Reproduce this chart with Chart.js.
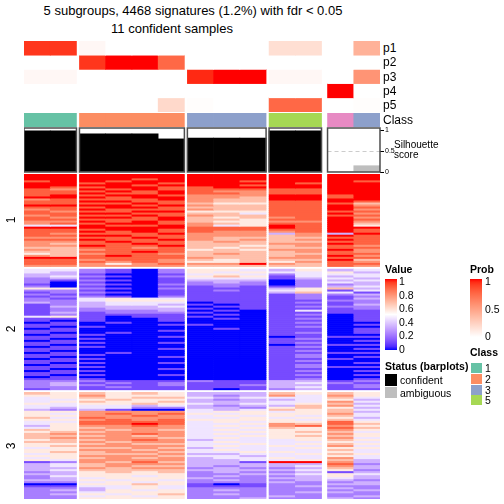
<!DOCTYPE html>
<html>
<head>
<meta charset="utf-8">
<title>signatures heatmap</title>
<script src="https://cdn.jsdelivr.net/npm/chart.js@4.4.1/dist/chart.umd.min.js"></script>
<style>
  html, body { margin: 0; padding: 0; background: #fff; }
  body { position: relative; width: 504px; height: 504px; overflow: hidden;
         font-family: "Liberation Sans", Arial, Helvetica, sans-serif; color: #000; }
  canvas, .txt, .sw { position: absolute; }
  .txt { white-space: nowrap; line-height: 14px; height: 14px; }
  .title { font-size: 13px; transform: translateX(-50%); }
  .lab { font-size: 12px; }
  .small { font-size: 10px; }
  .lt { font-size: 10.5px; font-weight: bold; }
  .ll { font-size: 10.5px; }
  .rot { font-size: 12px; transform: translate(-50%, 0) rotate(-90deg); }
</style>
</head>
<body>
<canvas id="probCanvas" width="356" height="71" style="left:24px;top:41px"></canvas>
<canvas id="classCanvas" width="356" height="14" style="left:24px;top:113px"></canvas>
<canvas id="silCanvas" width="386" height="56" style="left:24px;top:122px"></canvas>
<canvas id="heatCanvas" width="356" height="325" style="left:24px;top:174px"></canvas>
<script>
// samples (columns) in drawing order
const groupSizes = [2, 4, 3, 2, 2];
const sampleClass = [1, 1, 2, 2, 2, 2, 3, 3, 3, 5, 5, 4, 3];
const probNames = ['p1', 'p2', 'p3', 'p4', 'p5'];
const p1 = [0.92, 0.92, 0.04, 0, 0, 0, 0, 0, 0, 0.17, 0.17, 0, 0.40];
const p2 = [0, 0, 0.92, 1, 1, 0.75, 0, 0, 0, 0, 0, 0, 0];
const p3 = [0.04, 0.04, 0, 0, 0, 0, 0.95, 1, 1, 0.04, 0.04, 0, 0.55];
const p4 = [0, 0, 0, 0, 0, 0, 0, 0, 0, 0, 0, 1, 0];
const p5 = [0, 0, 0, 0, 0, 0.20, 0.01, 0, 0, 0.75, 0.75, 0, 0.01];
const silhouette = [0.98, 0.98, 0.91, 0.91, 0.91, 0.79, 0.81, 0.81, 0.81, 0.98, 0.98, 0, 0.15];
const confident = [1, 1, 1, 1, 1, 1, 1, 1, 1, 1, 1, 0, 0];
const silTicks = [0, 0.5, 1];
const valueTicks = [1, 0.8, 0.6, 0.4, 0.2, 0];
const probTicks = [1, 0.5, 0];
const legendClasses = [1, 2, 3, 5];
const rowGroupNames = ['1', '2', '3'];

// heatmap rows, one digit per sample: value = digit / 9
const rowsGroup1 = [
  '99 9999 999 99 99', '99 9999 999 99 99', '99 9989 999 99 99', '89 9899 998 99 98',
  '99 8998 999 98 99', '99 9989 998 99 99', '98 8998 899 99 99', '87 9898 888 88 99',
  '88 8989 877 88 99', '88 9889 887 88 99', '89 8998 777 99 89', '99 9899 776 99 89',
  '78 8889 766 99 99', '88 9988 766 88 98', '88 8898 655 88 86', '99 9989 766 88 97',
  '88 8998 666 88 98', '78 9888 766 88 97', '87 8899 555 88 88', '88 9988 664 88 97',
  '78 8898 766 88 88', '87 9989 656 78 97', '88 8889 665 88 98', '77 9898 655 77 97',
  '78 8998 765 88 96', '44 9889 745 98 95', '99 9999 888 98 99', '88 8998 888 88 98',
  '88 9898 877 78 98', '87 8889 777 37 39', '88 9988 777 67 98', '77 8898 766 66 88',
  '88 9889 767 67 98', '77 8988 676 66 88', '76 8898 666 77 98', '77 9889 665 67 87',
  '66 8878 656 66 88', '76 7888 565 77 97', '66 8898 666 67 87', '56 7887 676 66 88',
  '76 8988 666 67 97', '99 8888 766 77 88', '88 7887 656 66 96', '88 8787 556 57 87',
  '88 7578 779 76 88', '77 7777 666 66 87'
];
const rowsGroup2 = [
  '44 2102 554 35 34', '43 2102 545 44 53', '33 1001 454 24 44', '34 2102 565 14 34',
  '23 1001 444 13 43', '21 2101 333 02 34', '20 1001 232 02 43', '10 2102 222 02 23',
  '20 1001 121 12 34', '55 2102 111 35 63', '22 1001 121 45 14', '12 2101 111 36 41',
  '21 1001 111 12 23', '12 2102 111 12 12', '21 4544 111 12 13', '22 4555 111 11 22',
  '32 3444 011 12 12', '12 3443 101 11 13', '13 3334 011 12 22', '12 2333 101 11 12',
  '12 2223 010 14 11', '13 1222 100 11 11', '12 1111 010 12 01', '45 1011 100 11 01',
  '11 1001 010 12 01', '10 1001 000 11 01', '01 0100 000 12 00', '11 0001 100 11 01',
  '10 1000 000 12 00', '01 0000 010 11 01', '11 0001 000 11 01', '10 0100 000 12 01',
  '01 1000 000 11 00', '11 0001 000 01 11', '10 1000 000 12 00', '01 0000 000 11 01',
  '11 1001 000 12 00', '10 0000 000 01 11', '01 1000 000 12 00', '11 0001 000 11 01',
  '10 0000 000 12 00', '01 0100 000 11 11', '11 1000 000 12 00', '10 0001 000 12 01',
  '01 1000 000 11 10', '11 0000 000 12 00', '10 1001 000 11 01', '01 0000 000 12 00',
  '11 1000 000 12 11', '10 0001 000 11 00', '01 1000 000 12 01', '11 0000 000 11 00',
  '10 1001 000 12 01', '01 0000 000 11 00', '11 1000 000 12 01', '22 2111 211 33 12',
  '23 1212 111 34 21', '23 2112 112 33 12', '22 1211 111 34 12', '12 1111 101 23 11'
];
const rowsGroup3 = [
  '65 6565 333 65 65', '55 7555 323 74 75', '45 6566 434 44 64', '44 5655 323 34 53',
  '45 6556 333 44 74', '54 5565 434 45 63', '44 4434 323 36 74', '43 4422 332 56 53',
  '32 3100 434 65 64', '55 7777 455 45 63', '54 7878 545 55 74', '55 7787 454 54 64',
  '64 8777 445 45 53', '55 7878 555 54 64', '44 8888 454 55 85', '45 8898 445 76 86',
  '35 7787 454 78 75', '45 6777 445 65 86', '65 7676 454 55 75', '56 6777 445 56 64',
  '67 7787 454 55 75', '66 6767 445 56 65', '67 7776 454 55 74', '56 6787 344 45 65',
  '66 7677 454 44 54', '55 6766 445 45 65', '56 7777 454 54 74', '45 6676 344 45 55',
  '55 7767 454 44 64', '56 6776 445 54 54', '45 6667 334 45 65', '55 7776 443 44 54',
  '45 6767 344 54 74', '54 7777 334 45 63', '12 7686 331 99 73', '34 6777 333 33 82',
  '34 6766 323 34 73', '33 7677 232 23 63', '34 6666 333 34 52', '23 5656 232 23 13',
  '33 5555 223 34 54', '24 5545 232 23 53', '23 4555 322 33 43', '33 5454 232 23 32',
  '22 4545 222 32 23', '00 5565 101 22 33', '11 4454 111 23 22', '22 3454 222 22 32',
  '23 3545 232 22 23', '22 4555 222 23 32', '23 5456 232 22 22', '22 4545 222 32 23',
  '22 5555 223 22 32'
];

const classColors = { 1: '#66C2A5', 2: '#FC8D62', 3: '#8DA0CB', 4: '#E78AC3', 5: '#A6D854' };

// colour ramps interpolated in LAB space
function toLab(c) {
  const f = v => { v /= 255; return v <= 0.04045 ? v / 12.92 : Math.pow((v + 0.055) / 1.055, 2.4); };
  const R = f(c[0]), G = f(c[1]), B = f(c[2]);
  const h = t => t > 0.008856 ? Math.cbrt(t) : 7.787 * t + 16 / 116;
  const X = h((0.4124 * R + 0.3576 * G + 0.1805 * B) / 0.95047);
  const Y = h(0.2126 * R + 0.7152 * G + 0.0722 * B);
  const Z = h((0.0193 * R + 0.1192 * G + 0.9505 * B) / 1.08883);
  return [116 * Y - 16, 500 * (X - Y), 200 * (Y - Z)];
}
function fromLab(l) {
  const fy = (l[0] + 16) / 116, fx = l[1] / 500 + fy, fz = fy - l[2] / 200;
  const h = t => t * t * t > 0.008856 ? t * t * t : (t - 16 / 116) / 7.787;
  const X = h(fx) * 0.95047, Y = h(fy), Z = h(fz) * 1.08883;
  const g = v => {
    v = Math.min(1, Math.max(0, v));
    v = v <= 0.0031308 ? 12.92 * v : 1.055 * Math.pow(v, 1 / 2.4) - 0.055;
    return Math.round(Math.min(1, Math.max(0, v)) * 255);
  };
  return 'rgb(' + g(3.2406 * X - 1.5372 * Y - 0.4986 * Z) + ',' +
    g(-0.9689 * X + 1.8758 * Y + 0.0415 * Z) + ',' + g(0.0557 * X - 0.2040 * Y + 1.0570 * Z) + ')';
}
function makeRamp(breaks, colors) {
  const labs = colors.map(toLab);
  return v => {
    v = Math.min(breaks[breaks.length - 1], Math.max(breaks[0], v));
    let i = 0;
    while (i < breaks.length - 2 && v > breaks[i + 1]) i++;
    const t = (v - breaks[i]) / (breaks[i + 1] - breaks[i]);
    return fromLab(labs[i].map((a, k) => a + (labs[i + 1][k] - a) * t));
  };
}
const valueColor = makeRamp([0, 0.5, 1], [[0, 0, 255], [255, 255, 255], [255, 0, 0]]);
const probColor = makeRamp([0, 1], [[255, 255, 255], [255, 0, 0]]);

// column layout in "column" units
const areaW = 356;
const gapPx = [3, 3, 3, 6];
const colPx = (areaW - gapPx.reduce((a, b) => a + b, 0)) / sampleClass.length;
const colMid = [];
const groupSpan = [];
let pos = 0;
groupSizes.forEach((n, g) => {
  const start = pos;
  for (let i = 0; i < n; i++) { colMid.push(pos + 0.5); pos += 1; }
  groupSpan.push([start, pos]);
  if (g < gapPx.length) pos += gapPx[g] / colPx;
});
const xMax = pos;

Chart.defaults.font.family = '"Liberation Sans", Arial, sans-serif';

function tileSets(rows) {
  return rows.map(r => ({
    data: colMid.map(x => ({ x: x, y: [r.y0, r.y1] })),
    backgroundColor: r.colors,
    borderWidth: 0,
    grouped: false
  }));
}
function tileOptions(yMax) {
  return {
    responsive: false,
    animation: false,
    events: [],
    layout: { padding: 0 },
    datasets: { bar: { barPercentage: 1, categoryPercentage: 1 } },
    plugins: { legend: { display: false }, tooltip: { enabled: false } },
    scales: {
      x: { type: 'linear', min: 0, max: xMax, offset: false, display: false },
      y: { type: 'linear', min: 0, max: yMax, reverse: true, display: false }
    }
  };
}

// probability rows
const probRows = [p1, p2, p3, p4, p5].map((vals, i) => ({ y0: i, y1: i + 1, colors: vals.map(probColor) }));
const probChart = new Chart(document.getElementById('probCanvas'), {
  type: 'bar',
  data: { datasets: tileSets(probRows) },
  options: tileOptions(probRows.length)
});

// class row
new Chart(document.getElementById('classCanvas'), {
  type: 'bar',
  data: { datasets: tileSets([{ y0: 0, y1: 1, colors: sampleClass.map(c => classColors[c]) }]) },
  options: tileOptions(1)
});

// silhouette barplot
const silFrames = {
  id: 'silFrames',
  beforeDatasetsDraw(chart) {
    const { ctx, scales: { x, y } } = chart;
    ctx.save();
    ctx.strokeStyle = '#cccccc';
    ctx.lineWidth = 1;
    ctx.setLineDash([4, 3]);
    const yy = Math.round(y.getPixelForValue(0.5)) + 0.5;
    groupSpan.forEach(([a, b]) => {
      ctx.beginPath();
      ctx.moveTo(x.getPixelForValue(a), yy);
      ctx.lineTo(x.getPixelForValue(b), yy);
      ctx.stroke();
    });
    ctx.restore();
  },
  afterDatasetsDraw(chart) {
    const { ctx, chartArea, scales: { x } } = chart;
    ctx.save();
    ctx.strokeStyle = '#4d4d4d';
    ctx.lineWidth = 1.5;
    groupSpan.forEach(([a, b]) => {
      const x0 = x.getPixelForValue(a), x1 = x.getPixelForValue(b);
      ctx.strokeRect(x0, chartArea.top, x1 - x0, chartArea.bottom - chartArea.top);
    });
    ctx.restore();
  }
};
new Chart(document.getElementById('silCanvas'), {
  type: 'bar',
  data: {
    datasets: [{
      data: colMid.map((x, j) => ({ x: x, y: silhouette[j] })),
      backgroundColor: confident.map(c => c ? '#000000' : '#BEBEBE'),
      borderWidth: 0,
      barPercentage: 1,
      categoryPercentage: 1
    }]
  },
  options: {
    responsive: false,
    animation: false,
    events: [],
    layout: { padding: { top: 6, bottom: 6, left: 0, right: 0 } },
    plugins: { legend: { display: false }, tooltip: { enabled: false } },
    scales: {
      x: { type: 'linear', min: 0, max: xMax, offset: false, display: false },
      y: {
        type: 'linear', position: 'right', min: 0, max: 1.05,
        afterFit: a => { a.width = 30; },
        afterBuildTicks: a => { a.ticks = silTicks.map(v => ({ value: v })); },
        grid: { drawOnChartArea: false, drawTicks: true, tickLength: 4, color: '#000' },
        border: { display: false },
        ticks: { font: { size: 7 }, color: '#000', padding: 1, callback: v => String(v) }
      }
    }
  },
  plugins: [silFrames]
});

// main heatmap
const rowGap = 1.25;
const heatRows = [];
const groupMid = [];
let yPos = 0;
[rowsGroup1, rowsGroup2, rowsGroup3].forEach((rows, g) => {
  const start = yPos;
  rows.forEach(s => {
    const vals = s.replace(/ /g, '').split('').map(d => +d / 9);
    heatRows.push({ y0: yPos, y1: yPos + 1, colors: vals.map(valueColor) });
    yPos += 1;
  });
  groupMid.push((start + yPos) / 2);
  if (g < 2) yPos += rowGap;
});
const heatChart = new Chart(document.getElementById('heatCanvas'), {
  type: 'bar',
  data: { datasets: tileSets(heatRows) },
  options: tileOptions(yPos)
});

// texts
function addText(txt, x, yc, cls) {
  const d = document.createElement('div');
  d.className = 'txt ' + cls;
  d.textContent = txt;
  d.style.left = x + 'px';
  d.style.top = (yc - 7) + 'px';
  document.body.appendChild(d);
  return d;
}
function addSwatch(x, y, w, h, bg) {
  const d = document.createElement('div');
  d.className = 'sw';
  d.style.cssText = 'left:' + x + 'px;top:' + y + 'px;width:' + w + 'px;height:' + h + 'px;background:' + bg;
  document.body.appendChild(d);
}

addText('5 subgroups, 4468 signatures (1.2%) with fdr < 0.05', 193, 10.5, 'title');
addText('11 confident samples', 172, 29, 'title');

probNames.forEach((n, i) => addText(n, 383, 41 + probChart.scales.y.getPixelForValue(i + 0.5), 'lab'));
addText('Class', 383, 120, 'lab');
addText('Silhouette', 394, 145, 'small');
addText('score', 394, 155, 'small');

rowGroupNames.forEach((n, g) => addText(n, 11, 174 + heatChart.scales.y.getPixelForValue(groupMid[g]), 'rot'));

// Value legend
addText('Value', 385, 269, 'lt');
const vStops = [];
for (let k = 0; k <= 20; k++) vStops.push(valueColor(1 - k / 20) + ' ' + (k * 5) + '%');
addSwatch(385, 279, 12, 71, 'linear-gradient(to bottom,' + vStops.join(',') + ')');
valueTicks.forEach(v => addText(String(v), 399, 281 + (1 - v) * 68, 'll'));

// Prob legend
addText('Prob', 470, 269, 'lt');
const pStops = [];
for (let k = 0; k <= 20; k++) pStops.push(probColor(1 - k / 20) + ' ' + (k * 5) + '%');
addSwatch(470, 279, 12, 58, 'linear-gradient(to bottom,' + pStops.join(',') + ')');
probTicks.forEach(v => addText(String(v), 485, 281 + (1 - v) * 55, 'll'));

// Class legend
addText('Class', 470, 352, 'lt');
legendClasses.forEach((c, i) => {
  addSwatch(471, 363 + i * 10.8, 11, 10, classColors[c]);
  addText(String(c), 485, 368 + i * 10.8, 'll');
});

// Status legend
addText('Status (barplots)', 385, 366, 'lt');
addSwatch(385, 374, 12, 12, '#000000');
addText('confident', 400, 380, 'll');
addSwatch(385, 387, 12, 11, '#BEBEBE');
addText('ambiguous', 400, 393, 'll');
</script>
</body>
</html>
